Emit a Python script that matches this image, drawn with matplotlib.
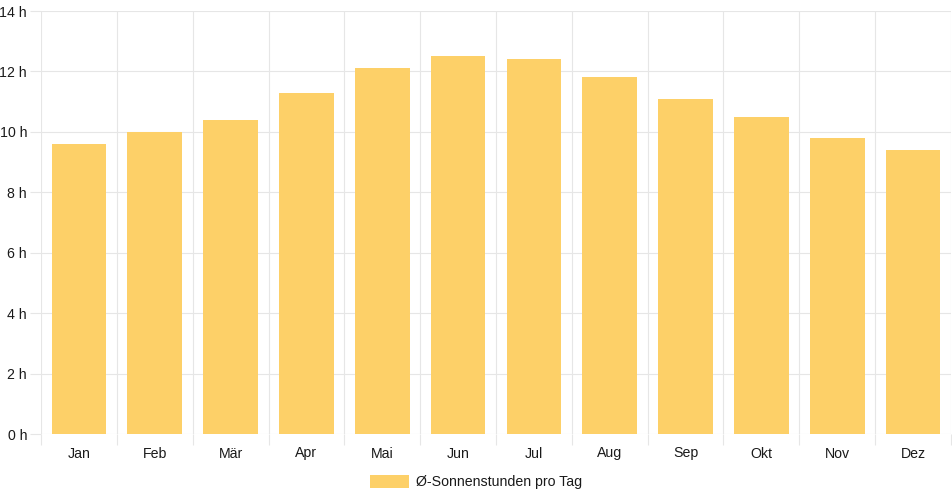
import matplotlib
matplotlib.use('Agg')
import matplotlib.pyplot as plt
import numpy as np

monate = ['Jan', 'Feb', 'Mär', 'Apr', 'Mai', 'Jun', 'Jul', 'Aug', 'Sep', 'Okt', 'Nov', 'Dez']
sonnenstunden = [9.6, 10.0, 10.4, 11.3, 12.1, 12.5, 12.4, 11.8, 11.1, 10.5, 9.8, 9.4]
y_ticks = [0, 2, 4, 6, 8, 10, 12, 14]
serie = 'Ø-Sonnenstunden pro Tag'

plt.rcParams['font.family'] = ['Liberation Sans', 'DejaVu Sans']
grid_col = '#e6e6e6'
txt_col = '#1a1a1a'

fig = plt.figure(figsize=(9.52, 5.0), dpi=100)
ax = fig.add_axes([41 / 952, 66 / 500, 910 / 952, 423 / 500])

x = np.arange(len(monate))
ax.bar(x, sonnenstunden, width=0.72, color='#fdd068', label=serie, zorder=2)

ax.set_xlim(-0.5, len(monate) - 0.5)
ax.set_ylim(0, 14)
ax.set_yticks(y_ticks)
ax.set_yticklabels([f'{v} h' for v in y_ticks])
ax.set_xticks(x)
ax.set_xticklabels(monate)
ax.set_xticks(np.arange(-0.5, len(monate)), minor=True)

for s in ax.spines.values():
    s.set_visible(False)

ax.grid(axis='y', color=grid_col, linewidth=0.8, zorder=0)
ax.grid(axis='x', which='minor', color=grid_col, linewidth=0.8, zorder=0)
ax.tick_params(axis='x', which='major', length=0, pad=9, labelsize=10.2, labelcolor=txt_col)
ax.tick_params(axis='x', which='minor', length=8, color=grid_col, width=0.8)
ax.tick_params(axis='y', length=8, color=grid_col, width=0.8, pad=2, labelsize=10.2, labelcolor=txt_col)

fig.legend(loc='center', bbox_to_anchor=(476 / 952, 1 - 482 / 500), frameon=False,
           handlelength=2.8, handleheight=1.0, handletextpad=0.5, fontsize=10.2,
           labelcolor=txt_col)

fig.savefig('out.png', dpi=100)
plt.close(fig)
